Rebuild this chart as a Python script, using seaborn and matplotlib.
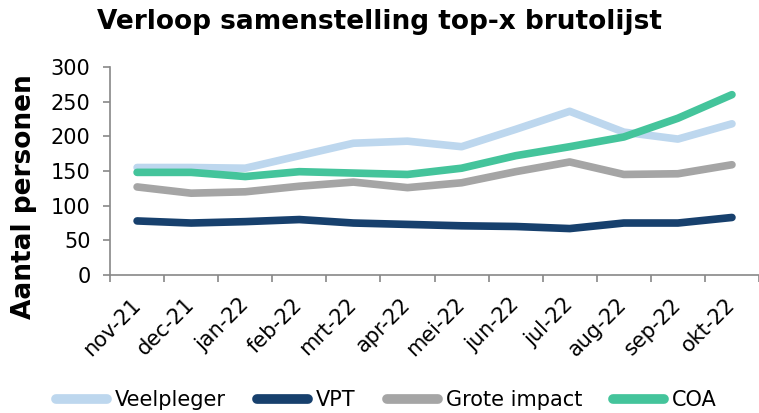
import pandas as pd
import seaborn as sns
import matplotlib.pyplot as plt
from matplotlib.transforms import ScaledTranslation

# Data
maanden = ['nov-21', 'dec-21', 'jan-22', 'feb-22', 'mrt-22', 'apr-22',
           'mei-22', 'jun-22', 'jul-22', 'aug-22', 'sep-22', 'okt-22']
veelpleger = [155, 155, 154, 172, 190, 193, 185, 210, 236, 206, 196, 218]
vpt = [78, 75, 77, 80, 75, 73, 71, 70, 67, 75, 75, 83]
grote_impact = [127, 118, 120, 128, 134, 126, 133, 149, 163, 145, 146, 159]
coa = [148, 148, 142, 149, 147, 145, 154, 172, 185, 199, 226, 260]

series = ['Veelpleger', 'VPT', 'Grote impact', 'COA']
kleuren = ['#BDD7EE', '#17406D', '#A5A5A5', '#44C49B']

df = pd.DataFrame({
    'maand': maanden * 4,
    'pos': list(range(len(maanden))) * 4,
    'waarde': veelpleger + vpt + grote_impact + coa,
    'reeks': sum([[s] * len(maanden) for s in series], []),
})

sns.set_style('white')
plt.rcParams['font.family'] = ['DejaVu Sans']
plt.rcParams['text.color'] = 'black'
plt.rcParams['xtick.color'] = 'black'
plt.rcParams['ytick.color'] = 'black'
plt.rcParams['axes.labelcolor'] = 'black'

fig = plt.figure(figsize=(7.59, 4.13), dpi=100)
ax = fig.add_axes([0.145, 0.334, 0.855, 0.504])

sns.lineplot(data=df, x='pos', y='waarde', hue='reeks', hue_order=series,
             palette=kleuren, linewidth=5.5, ax=ax, legend=False,
             solid_capstyle='round')

ax.set_xlim(-0.5, len(maanden) - 0.5)
ax.set_ylim(0, 300)
ax.set_yticks(range(0, 301, 50))
ax.tick_params(axis='y', labelsize=15, length=5, color='#888888', width=1.2,
               left=True, pad=9)

# Excel-style: ticks between categories, labels at category centres
ax.set_xticks([i - 0.5 for i in range(len(maanden) + 1)])
ax.set_xticklabels([])
ax.set_xticks(range(len(maanden)), minor=True)
ax.set_xticklabels(maanden, minor=True, rotation=45, ha='right',
                   rotation_mode='anchor', fontsize=15)
ax.tick_params(axis='x', which='major', length=5, color='#888888', width=1.2,
               bottom=True)
ax.tick_params(axis='x', which='minor', length=0, pad=14)
shift = ScaledTranslation(-7 / 100, 0, fig.dpi_scale_trans)
for lbl in ax.get_xticklabels(minor=True):
    lbl.set_transform(lbl.get_transform() + shift)

for side in ['top', 'right']:
    ax.spines[side].set_visible(False)
for side in ['left', 'bottom']:
    ax.spines[side].set_color('#888888')
    ax.spines[side].set_linewidth(1.2)

ax.set_xlabel('')
ax.set_ylabel('Aantal personen', fontsize=19, fontweight='bold')
ax.yaxis.set_label_coords(-0.112, 0.375)

fig.suptitle('Verloop samenstelling top-x brutolijst', fontsize=19,
             fontweight='bold', x=0.5, y=0.978)

handles = [plt.Line2D([0], [0], color=c, linewidth=7, solid_capstyle='round')
           for c in kleuren]
fig.legend(handles, series, loc='center', bbox_to_anchor=(0.509, 0.031),
           ncol=4, frameon=False, fontsize=15, handlelength=2.45,
           handletextpad=0.38, columnspacing=1.5, borderpad=0)

fig.savefig('out.png', dpi=100)
